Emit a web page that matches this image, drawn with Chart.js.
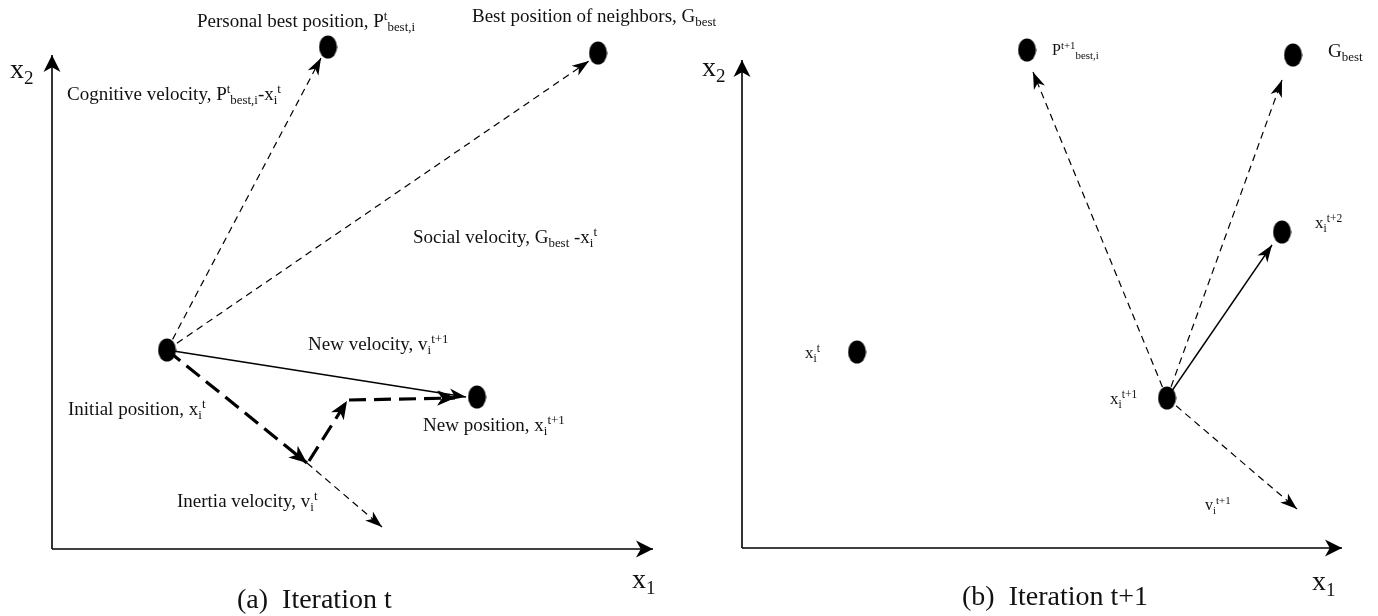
<!DOCTYPE html>
<html lang="en">
<head>
<meta charset="UTF-8" />
<title>PSO - velocity update</title>
<script src="https://cdn.jsdelivr.net/npm/chart.js"></script>
<style>
  body { margin: 0; background: #fff; }
  .panel { position: absolute; top: 0; height: 616px; }
  #panelA { left: 0; width: 740px; }
  #panelB { left: 689px; width: 689px; }
</style>
</head>
<body>
<div class="panel" id="panelA"><canvas id="chartA" width="740" height="616"></canvas></div>
<div class="panel" id="panelB"><canvas id="chartB" width="689" height="616"></canvas></div>

<script>
// values, in picture units (y grows downward)

// (a) iteration t : Pbest, Gbest, initial position, new position
const aPointX = [328, 598, 167, 477];
const aPointY = [47, 53, 350, 397];
// arrows as [x0, y0, x1, y1]
const aAxes = [[52, 549, 52, 55], [52, 549, 653, 549]];
const aThinDashed = [[167, 350, 321, 58], [167, 350, 589, 61], [307, 463, 382, 527]];
const aThickDashed = [[167, 350, 307, 463], [309, 461, 347, 401], [349, 400, 455, 398]];
const aSolid = [[167, 350, 466, 397]];
const aLabels = [
  'Personal best position, P^{t}_{best,i}',
  'Best position of neighbors, G_{best}',
  'Cognitive velocity, P^{t}_{best,i}-x_{i}^{t}',
  'Social velocity, G_{best} -x_{i}^{t}',
  'New velocity, v_{i}^{t+1}',
  'Initial position, x_{i}^{t}',
  'New position, x_{i}^{t+1}',
  'Inertia velocity, v_{i}^{t}',
  'x_{2}',
  'x_{1}',
  '(a)  Iteration t'
];
const aLabelX = [197, 472, 67, 413, 308, 68, 423, 177, 10, 632, 237];
const aLabelY = [27, 22, 100, 243, 350, 415, 431, 507, 78, 588, 608];
const aLabelSize = [19, 19, 19, 19, 19, 19, 19, 19, 28, 28, 28];

// (b) iteration t+1 : Pbest, Gbest, x(t+2), x(t), x(t+1)
const bPointX = [1027, 1293, 1282, 857, 1167];
const bPointY = [50, 55, 232, 352, 398];
const bAxes = [[742, 548, 742, 60], [742, 548, 1342, 548]];
const bThinDashed = [[1167, 398, 1033, 72], [1167, 398, 1282, 80], [1167, 398, 1297, 509]];
const bThickDashed = [];
const bSolid = [[1167, 398, 1272, 245]];
const bLabels = [
  'P^{t+1}_{best,i}',
  'G_{best}',
  'x_{i}^{t+2}',
  'x_{i}^{t}',
  'x_{i}^{t+1}',
  'v_{i}^{t+1}',
  'x_{2}',
  'x_{1}',
  '(b)  Iteration t+1'
];
const bLabelX = [1052, 1328, 1315, 805, 1110, 1205, 702, 1312, 962];
const bLabelY = [55, 57, 228, 358, 404, 510, 76, 590, 605];
const bLabelSize = [16, 19, 17, 17, 17, 16, 28, 28, 28];

const FONT = '"Liberation Serif", "Times New Roman", serif';

// filled dot, a bit taller than wide like in the original
function makeDot() {
  const c = document.createElement('canvas');
  c.width = 19; c.height = 24;
  const g = c.getContext('2d');
  g.fillStyle = '#000';
  g.beginPath();
  g.ellipse(9.5, 12, 9, 11.5, 0, 0, Math.PI * 2);
  g.fill();
  return c;
}
const dot = makeDot();

function lineSets(list, width, dash, head) {
  return list.map(s => ({
    data: [{ x: s[0], y: s[1] }, { x: s[2], y: s[3] }],
    showLine: true,
    borderColor: '#000',
    borderWidth: width,
    borderDash: dash,
    pointRadius: 0,
    pointHoverRadius: 0,
    order: 2,
    head: head
  }));
}

// draws text like "x_{i}^{t+1}" with sub/superscripts
function richText(ctx, str, x, y, size) {
  const parts = str.split(/(\^\{[^}]*\}|_\{[^}]*\})/).filter(p => p !== '');
  let cx = x;
  parts.forEach(p => {
    let s = size, dy = 0, t = p;
    if (p.startsWith('^{')) { s = size * 0.68; dy = -size * 0.38; t = p.slice(2, -1); }
    else if (p.startsWith('_{')) { s = size * 0.68; dy = size * 0.22; t = p.slice(2, -1); }
    ctx.font = s + 'px ' + FONT;
    ctx.fillText(t, cx, y + dy);
    cx += ctx.measureText(t).width;
  });
}

const arrowHeads = {
  id: 'arrowHeads',
  afterDatasetsDraw(chart) {
    const ctx = chart.ctx;
    chart.data.datasets.forEach((ds, i) => {
      if (!ds.head) return;
      const pts = chart.getDatasetMeta(i).data;
      const a = pts[0], b = pts[1];
      const ang = Math.atan2(b.y - a.y, b.x - a.x);
      const L = ds.head[0], W = ds.head[1];
      ctx.save();
      ctx.fillStyle = '#000';
      ctx.translate(b.x, b.y);
      ctx.rotate(ang);
      ctx.beginPath();
      ctx.moveTo(0, 0);
      ctx.lineTo(-L, -W);
      ctx.lineTo(-L * 0.72, 0);
      ctx.lineTo(-L, W);
      ctx.closePath();
      ctx.fill();
      ctx.restore();
    });
  }
};

const textLabels = {
  id: 'textLabels',
  afterDraw(chart, args, opts) {
    const ctx = chart.ctx;
    const sx = chart.scales.x, sy = chart.scales.y;
    ctx.save();
    ctx.fillStyle = '#111';
    ctx.textBaseline = 'alphabetic';
    opts.text.forEach((t, i) => {
      richText(ctx, t, sx.getPixelForValue(opts.x[i]), sy.getPixelForValue(opts.y[i]), opts.size[i]);
    });
    ctx.restore();
  }
};

function drawPanel(id, x0, w, px, py, axes, thin, thick, solid, labels, lx, ly, lsize) {
  const datasets = [
    {
      data: px.map((x, i) => ({ x: x, y: py[i] })),
      pointStyle: dot,
      pointRadius: 10,
      pointHoverRadius: 10,
      order: 0
    }
  ]
    .concat(lineSets(axes, 1.6, [], [17, 8.5]))
    .concat(lineSets(thin, 1.2, [7, 5], [17, 6]))
    .concat(lineSets(thick, 3.2, [17, 8], [18, 7.5]))
    .concat(lineSets(solid, 1.4, [], [17, 6]));

  if (id === 'chartA') {
    // second arrowhead of the new velocity (the thick path ends just before it)
    datasets.push(...lineSets([[430, 397.6, 455, 397.4]], 0, [], [17, 7]));
  }

  new Chart(document.getElementById(id), {
    type: 'scatter',
    data: { datasets: datasets },
    options: {
      responsive: false,
      animation: false,
      devicePixelRatio: 1,
      layout: { padding: 0, autoPadding: false },
      events: [],
      scales: {
        x: { type: 'linear', min: x0, max: x0 + w, display: false },
        y: { type: 'linear', min: 0, max: 616, reverse: true, display: false }
      },
      plugins: {
        legend: { display: false },
        tooltip: { enabled: false },
        textLabels: { text: labels, x: lx, y: ly, size: lsize }
      }
    },
    plugins: [arrowHeads, textLabels]
  });
}

drawPanel('chartA', 0, 740, aPointX, aPointY, aAxes, aThinDashed, aThickDashed, aSolid, aLabels, aLabelX, aLabelY, aLabelSize);
drawPanel('chartB', 689, 689, bPointX, bPointY, bAxes, bThinDashed, bThickDashed, bSolid, bLabels, bLabelX, bLabelY, bLabelSize);
</script>
</body>
</html>
